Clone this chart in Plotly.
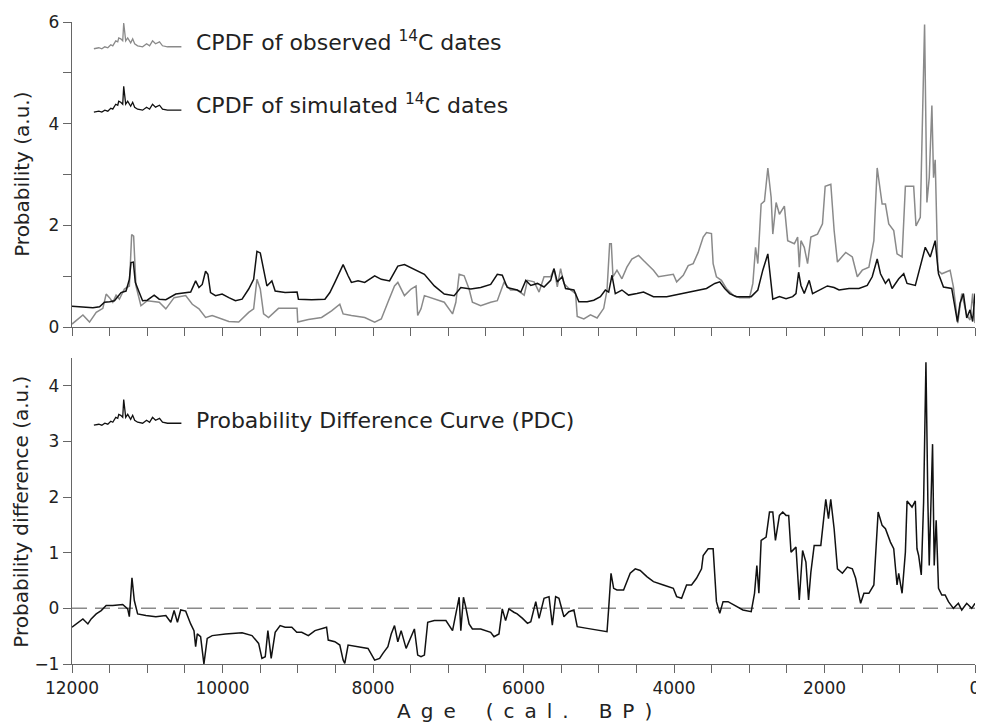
import plotly.graph_objects as go

# ---------------- data ----------------
sim_age = [12000, 11722, 11634, 11568, 11500, 11436, 11348, 11282, 11238, 11216,
           11185, 11159, 11106, 11062, 11000, 10908, 10841, 10753, 10621, 10500,
           10423, 10357, 10313, 10269, 10225, 10194, 10159, 10093, 10005, 9916,
           9828, 9740, 9652, 9586, 9542, 9498, 9454, 9410, 9344, 9300,
           9168, 9009, 8991, 8815, 8639, 8573, 8507, 8397, 8331, 8287,
           8199, 8110, 7978, 7890, 7780, 7670, 7582, 7450, 7317, 7185,
           7053, 6921, 6833, 6701, 6569, 6436, 6348, 6282, 6216, 6084,
           6035, 5969, 5903, 5815, 5727, 5639, 5595, 5551, 5485, 5441,
           5330, 5264, 5154, 5066, 4978, 4912, 4868, 4824, 4780, 4692,
           4604, 4493, 4405, 4273, 4097, 3921, 3745, 3568, 3458, 3392,
           3326, 3260, 3172, 3084, 2974, 2886, 2820, 2753, 2709, 2687,
           2599, 2511, 2423, 2379, 2344, 2313, 2269, 2203, 2159, 2071,
           1961, 1873, 1806, 1674, 1542, 1432, 1366, 1300, 1256, 1190,
           1146, 1102, 1013, 947, 903, 793, 727, 661, 595, 529,
           485, 419, 309, 234, 199, 154, 110, 66, 31, 0]
sim_val = [0.41, 0.38, 0.40, 0.49, 0.50, 0.52, 0.68, 0.71, 0.94, 1.27,
           1.28, 0.88, 0.68, 0.52, 0.53, 0.63, 0.55, 0.54, 0.65, 0.67,
           0.69, 0.91, 0.78, 0.84, 1.10, 1.04, 0.68, 0.62, 0.65, 0.58,
           0.52, 0.55, 0.75, 0.94, 1.49, 1.46, 1.14, 0.81, 0.91, 0.71,
           0.68, 0.69, 0.55, 0.54, 0.55, 0.68, 0.88, 1.23, 1.01, 0.88,
           0.91, 0.88, 1.01, 0.94, 0.91, 1.20, 1.23, 1.14, 1.04, 0.81,
           0.65, 0.62, 0.78, 0.75, 0.78, 0.84, 1.04, 1.02, 0.78, 0.73,
           0.69, 0.92, 0.82, 0.86, 0.79, 0.92, 1.15, 0.89, 0.99, 0.76,
           0.73, 0.50, 0.50, 0.53, 0.60, 0.73, 0.69, 1.02, 0.66, 0.73,
           0.63, 0.66, 0.69, 0.60, 0.60, 0.65, 0.71, 0.76, 0.86, 0.89,
           0.76, 0.66, 0.60, 0.60, 0.60, 0.73, 1.12, 1.44, 0.92, 0.55,
           0.60, 0.56, 0.60, 0.66, 1.08, 0.82, 0.66, 0.92, 0.66, 0.73,
           0.81, 0.78, 0.73, 0.76, 0.76, 0.82, 0.99, 1.34, 1.05, 0.86,
           0.95, 0.76, 0.95, 1.05, 0.86, 0.82, 1.18, 1.57, 1.38, 1.70,
           1.05, 0.79, 0.76, 0.11, 0.47, 0.66, 0.18, 0.34, 0.11, 0.66]

obs_age = [12000, 11855, 11767, 11678, 11590, 11546, 11502, 11458, 11414, 11370,
           11304, 11238, 11207, 11181, 11150, 11084, 11000, 10841, 10753, 10643,
           10489, 10401, 10313, 10225, 10137, 10005, 9916, 9784, 9652, 9586,
           9542, 9498, 9454, 9388, 9256, 9079, 9009, 9000, 8859, 8683,
           8551, 8441, 8397, 8287, 8110, 7978, 7890, 7802, 7714, 7670,
           7582, 7494, 7428, 7406, 7362, 7317, 7185, 7053, 6943, 6899,
           6855, 6789, 6723, 6679, 6569, 6436, 6348, 6260, 6172, 6084,
           5991, 5947, 5859, 5793, 5727, 5639, 5595, 5551, 5507, 5463,
           5397, 5308, 5286, 5198, 5110, 5022, 4934, 4890, 4855, 4833,
           4811, 4758, 4692, 4626, 4560, 4471, 4405, 4339, 4273, 4207,
           4097, 4009, 3965, 3877, 3811, 3745, 3679, 3612, 3568, 3502,
           3480, 3436, 3370, 3304, 3216, 3128, 2996, 2952, 2916, 2886,
           2842, 2798, 2753, 2709, 2687, 2643, 2599, 2533, 2489, 2401,
           2357, 2335, 2313, 2269, 2225, 2181, 2093, 2027, 1991, 1916,
           1872, 1828, 1718, 1630, 1564, 1498, 1410, 1344, 1300, 1234,
           1190, 1146, 1080, 1036, 969, 925, 815, 784, 727, 696,
           670, 639, 608, 573, 551, 529, 494, 441, 331, 287,
           229, 176, 110, 66, 31, 0]
obs_val = [0.06, 0.24, 0.10, 0.29, 0.37, 0.65, 0.58, 0.49, 0.63, 0.55,
           0.75, 0.81, 1.82, 1.79, 0.81, 0.42, 0.52, 0.49, 0.36, 0.58,
           0.62, 0.45, 0.36, 0.19, 0.23, 0.16, 0.11, 0.10, 0.29, 0.36,
           0.94, 0.75, 0.26, 0.19, 0.37, 0.37, 0.37, 0.10, 0.15, 0.19,
           0.32, 0.45, 0.26, 0.23, 0.19, 0.10, 0.16, 0.49, 0.81, 0.88,
           0.62, 0.75, 0.81, 0.23, 0.36, 0.62, 0.55, 0.49, 0.26, 0.49,
           1.04, 1.01, 0.75, 0.49, 0.42, 0.49, 0.52, 0.88, 0.73, 0.73,
           0.63, 0.92, 0.89, 0.69, 0.99, 0.99, 1.15, 0.79, 1.15, 0.86,
           0.76, 0.66, 0.21, 0.16, 0.24, 0.18, 0.37, 0.73, 1.64, 1.64,
           0.99, 1.12, 0.95, 1.18, 1.34, 1.41, 1.31, 1.21, 1.12, 0.99,
           1.02, 1.04, 0.89, 1.02, 1.21, 1.25, 1.47, 1.77, 1.86, 1.84,
           1.25, 0.99, 0.92, 0.76, 0.63, 0.58, 0.58, 0.86, 1.57, 1.25,
           2.42, 2.48, 3.13, 2.55, 1.83, 2.45, 2.22, 2.38, 1.70, 1.64,
           1.77, 1.18, 1.70, 1.57, 1.25, 1.77, 1.83, 2.03, 2.77, 2.81,
           1.90, 1.28, 1.47, 1.38, 0.99, 1.12, 1.18, 1.70, 3.13, 2.42,
           2.42, 2.03, 1.90, 1.44, 1.38, 2.77, 2.77, 1.99, 2.16, 4.36,
           5.95, 2.45, 2.94, 4.36, 2.94, 3.29, 1.12, 1.05, 1.12, 0.79,
           0.08, 0.66, 0.24, 0.14, 0.66, 0.08]

pdc_age = [12000, 11921, 11855, 11789, 11745, 11678, 11612, 11546, 11458, 11326,
           11260, 11238, 11203, 11172, 11128, 11018, 10886, 10753, 10687, 10643,
           10599, 10555, 10489, 10423, 10379, 10357, 10335, 10291, 10247, 10203,
           10137, 9960, 9740, 9608, 9520, 9476, 9432, 9397, 9353, 9300,
           9234, 9168, 9079, 9013, 8947, 8859, 8771, 8617, 8595, 8507,
           8441, 8397, 8375, 8331, 8199, 8066, 7978, 7912, 7868, 7802,
           7758, 7714, 7670, 7626, 7560, 7494, 7450, 7406, 7362, 7317,
           7273, 7185, 7031, 6943, 6877, 6855, 6833, 6798, 6767, 6723,
           6679, 6569, 6436, 6392, 6326, 6282, 6238, 6194, 6128, 6084,
           6013, 5947, 5903, 5837, 5793, 5727, 5661, 5617, 5573, 5529,
           5463, 5397, 5330, 5286, 5154, 5022, 4890, 4868, 4837, 4802,
           4758, 4670, 4582, 4515, 4449, 4361, 4273, 4141, 4009, 3965,
           3899, 3833, 3767, 3701, 3634, 3612, 3546, 3480, 3436, 3392,
           3348, 3282, 3172, 3084, 2974, 2930, 2899, 2872, 2842, 2776,
           2731, 2687, 2652, 2599, 2555, 2511, 2476, 2445, 2379, 2335,
           2291, 2247, 2212, 2181, 2137, 2049, 1983, 1947, 1917, 1872,
           1828, 1762, 1696, 1630, 1586, 1520, 1476, 1410, 1344, 1287,
           1234, 1190, 1124, 1080, 1036, 1014, 969, 925, 903, 837,
           793, 771, 749, 714, 683, 652, 626, 608, 564, 542,
           516, 485, 441, 397, 353, 287, 221, 176, 110, 44,
           0]
pdc_val = [-0.34, -0.25, -0.19, -0.28, -0.19, -0.10, -0.04, 0.05, 0.05, 0.07,
           -0.01, -0.15, 0.55, 0.14, -0.10, -0.13, -0.15, -0.13, -0.25, -0.04,
           -0.25, -0.03, -0.05, -0.28, -0.40, -0.69, -0.46, -0.51, -1.0, -0.54,
           -0.49, -0.46, -0.44, -0.49, -0.63, -0.90, -0.87, -0.40, -0.90, -0.43,
           -0.31, -0.34, -0.34, -0.43, -0.43, -0.49, -0.40, -0.34, -0.57, -0.60,
           -0.66, -0.93, -0.99, -0.66, -0.69, -0.72, -0.93, -0.90, -0.81, -0.69,
           -0.46, -0.31, -0.60, -0.40, -0.72, -0.51, -0.37, -0.84, -0.87, -0.84,
           -0.25, -0.22, -0.22, -0.40, 0.05, 0.20, -0.40, 0.20, 0.02, -0.28,
           -0.37, -0.37, -0.43, -0.51, -0.46, -0.01, -0.22, -0.01, -0.07, -0.10,
           -0.18, -0.27, -0.24, 0.12, -0.18, 0.18, 0.21, -0.30, 0.21, 0.18,
           -0.15, -0.06, -0.03, -0.33, -0.36, -0.39, -0.42, 0.0, 0.63, 0.36,
           0.33, 0.33, 0.63, 0.71, 0.68, 0.57, 0.48, 0.42, 0.36, 0.21,
           0.18, 0.42, 0.42, 0.54, 0.71, 0.95, 1.07, 1.07, 0.12, -0.09,
           0.12, 0.12, 0.03, -0.03, -0.06, 0.27, 0.77, 0.27, 1.22, 1.28,
           1.73, 1.73, 1.22, 1.67, 1.73, 1.67, 1.67, 1.01, 1.10, 0.15,
           1.04, 0.83, 0.15, 0.65, 1.13, 1.13, 1.96, 1.61, 1.96, 1.43,
           0.71, 0.63, 0.74, 0.71, 0.54, 0.09, 0.27, 0.27, 0.42, 1.73,
           1.49, 1.43, 1.19, 1.07, 0.42, 0.63, 0.27, 1.01, 1.93, 1.82,
           1.93, 1.07, 0.95, 0.60, 1.90, 4.42, 1.90, 0.77, 2.95, 0.77,
           1.58, 0.36, 0.24, 0.24, 0.12, 0.0, 0.09, -0.03, 0.09, 0.0,
           0.09]

legend_labels = ["CPDF of observed <sup>14</sup>C dates",
                 "CPDF of simulated <sup>14</sup>C dates",
                 "Probability Difference Curve (PDC)"]
x_tick_vals = [12000, 10000, 8000, 6000, 4000, 2000, 0]
x_tick_text = [str(v) for v in x_tick_vals]
x_title_words = ["Age", "(cal.", "BP)"]

# ---------------- styling ----------------
FONT = "DejaVu Sans"
GRAY = "#8a8a8a"
BLACK = "#111111"
AXIS = "#666666"
OFF = 8                      # page body margin of the browser
W, H = 984 - OFF, 724 - OFF  # figure size
ML, MR, MT, MB = 72 - OFF, 4, 16 - OFF, 60
PX0, PY0 = 72, 16            # plot-area origin on screen
PW, PH = 908, 648


def px2paper(x, y):
    return (x - PX0) / PW, 1 - (y - PY0) / PH


fig = go.Figure()
fig.add_trace(go.Scatter(x=obs_age, y=obs_val, mode="lines",
                         line=dict(color=GRAY, width=1.5), xaxis="x", yaxis="y"))
fig.add_trace(go.Scatter(x=sim_age, y=sim_val, mode="lines",
                         line=dict(color=BLACK, width=1.5), xaxis="x", yaxis="y"))
fig.add_trace(go.Scatter(x=pdc_age, y=pdc_val, mode="lines",
                         line=dict(color=BLACK, width=1.5), xaxis="x2", yaxis="y2"))

axis_common = dict(showgrid=False, zeroline=False, showline=True, linecolor=AXIS,
                   linewidth=1.3, ticks="outside", ticklen=8, tickwidth=1.3,
                   tickcolor=AXIS, ticklabeloverflow="allow",
                   tickfont=dict(family=FONT, size=17, color="#222"))

top_dom = [(664 - 324) / PH, 1.0]
bot_dom = [0.0, (664 - 355) / PH]

fig.update_layout(
    width=W, height=H, plot_bgcolor="white", paper_bgcolor="white",
    margin=dict(l=ML, r=MR, t=MT, b=MB), showlegend=False,
    xaxis=dict(axis_common, domain=[0, 1], range=[12000, 0], anchor="y",
               tick0=0, dtick=500, showticklabels=False),
    yaxis=dict(axis_common, domain=top_dom, range=[0, 6], anchor="x",
               tickvals=[0, 2, 4, 6],
               minor=dict(tickvals=[1, 3, 5], ticks="outside", ticklen=8,
                          tickwidth=1.3, tickcolor=AXIS)),
    xaxis2=dict(axis_common, domain=[0, 1], range=[12000, 0], anchor="y2",
                tickvals=x_tick_vals, ticktext=x_tick_text,
                minor=dict(dtick=500, tick0=0, ticks="outside", ticklen=8,
                           tickwidth=1.3, tickcolor=AXIS)),
    yaxis2=dict(axis_common, domain=bot_dom, range=[-1, 4.5], anchor="x2",
                tickvals=[-1, 0, 1, 2, 3, 4]),
)

# dashed zero line in the PDC panel
fig.add_shape(type="line", xref="x2", yref="y2", x0=12000, x1=0, y0=0, y1=0,
              line=dict(color=GRAY, width=1.5, dash="15px,8px"), layer="below")

# legend icons (small wiggly samples) and labels
icon_rel = [(0, 0), (5, -1), (8, 0), (11, -2), (14, -1), (17, -4), (19, -3),
            (22, -8), (24, -7), (25, -11), (27, -10), (29, -8), (30, -26),
            (32, -8), (34, -11), (37, -6), (39, -10), (41, -5), (44, -3),
            (49, -2), (53, -5), (56, -3), (59, -8), (62, -5), (66, -7),
            (69, -3), (74, -2), (88, -2)]
icons = [(94, 43, GRAY), (94, 107, BLACK), (94, 423, BLACK)]
text_y = [35, 99, 418]
for (ix, iy, col), lab, ty in zip(icons, legend_labels, text_y):
    pts = [px2paper(ix + dx, iy + dy) for dx, dy in icon_rel]
    path = "M " + " L ".join(f"{a:.5f},{b:.5f}" for a, b in pts)
    fig.add_shape(type="path", xref="paper", yref="paper", path=path,
                  line=dict(color=col, width=1.3))
    tx, tyy = px2paper(195, ty)
    fig.add_annotation(xref="paper", yref="paper", x=tx, y=tyy, text=lab,
                       showarrow=False, xanchor="left", yanchor="middle",
                       font=dict(family=FONT, size=22, color="#222"))

# axis titles
ax, ay = px2paper(21, 170)
fig.add_annotation(xref="paper", yref="paper", x=ax, y=ay, text="Probability (a.u.)",
                   textangle=-90, showarrow=False, xanchor="center", yanchor="middle",
                   font=dict(family=FONT, size=20, color="#222"))
ax, ay = px2paper(21, 510)
fig.add_annotation(xref="paper", yref="paper", x=ax, y=ay,
                   text="Probability difference (a.u.)",
                   textangle=-90, showarrow=False, xanchor="center", yanchor="middle",
                   font=dict(family=FONT, size=20, color="#222"))
EN = "\u2002"
x_title = (EN * 3).join(EN.join(w) for w in x_title_words)
ax, ay = px2paper(527, 711)
fig.add_annotation(xref="paper", yref="paper", x=ax, y=ay, text=x_title,
                   showarrow=False, xanchor="center", yanchor="middle",
                   font=dict(family=FONT, size=20, color="#222"))

fig.write_html("out.html")
